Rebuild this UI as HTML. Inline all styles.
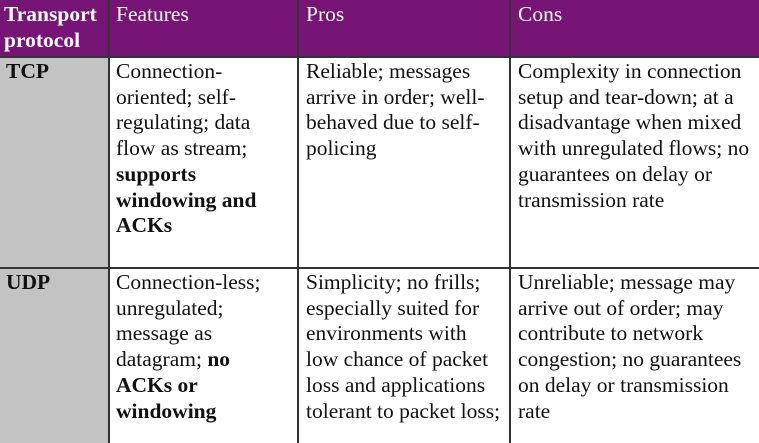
<!DOCTYPE html>
<html><head><style>
body{margin:0;width:759px;height:443px;overflow:hidden;background:#fff;font-family:"Liberation Serif","Noto Serif CJK SC",serif;font-size:21.5px;line-height:25.7px;color:#111}
.c{position:absolute;box-sizing:border-box;padding:2px 0 0 7px;white-space:nowrap}
.h{background:#761575;color:#fff;height:57px}
.g{background:#c3c3c3}
.v{position:absolute;top:0;width:2px;height:443px;background:#333}
.r{position:absolute;left:0;width:759px;height:2px;background:#333}
b{font-weight:bold}
</style></head><body>
<div class="c h" style="left:0;top:0;width:759px"></div>
<div class="c g" style="left:0;top:57px;width:109px;height:386px"></div>
<div class="c" style="left:0;top:0;color:#fff;font-weight:bold;padding-left:4px">Transport<br>protocol</div>
<div class="c" style="left:110px;top:0;color:#fff;padding-left:6px">Features</div>
<div class="c" style="left:299px;top:0;color:#fff;padding-left:7px">Pros</div>
<div class="c" style="left:511px;top:0;color:#fff;padding-left:7px">Cons</div>
<div class="v" style="left:108px"></div>
<div class="v" style="left:297px"></div>
<div class="v" style="left:509px"></div>
<div class="r" style="top:56px"></div>
<div class="r" style="top:267px"></div>
<div class="c" style="left:0;top:57px;font-weight:bold;padding-left:6px">TCP</div>
<div class="c" style="left:110px;top:57px;padding-left:6px">Connection-<br>oriented; self-<br>regulating; data<br>flow as stream;<br><b>supports<br>windowing and<br>ACKs</b></div>
<div class="c" style="left:299px;top:57px;padding-left:7px">Reliable; messages<br>arrive in order; well-<br>behaved due to self-<br>policing</div>
<div class="c" style="left:511px;top:57px;padding-left:7px">Complexity in connection<br>setup and tear-down; at a<br>disadvantage when mixed<br>with unregulated flows; no<br>guarantees on delay or<br>transmission rate</div>
<div class="c" style="left:0;top:268px;font-weight:bold;padding-left:6px">UDP</div>
<div class="c" style="left:110px;top:268px;padding-left:6px">Connection-less;<br>unregulated;<br>message as<br>datagram; <b>no<br>ACKs or<br>windowing</b></div>
<div class="c" style="left:299px;top:268px;padding-left:7px">Simplicity; no frills;<br>especially suited for<br>environments with<br>low chance of packet<br>loss and applications<br>tolerant to packet loss;</div>
<div class="c" style="left:511px;top:268px;padding-left:7px">Unreliable; message may<br>arrive out of order; may<br>contribute to network<br>congestion; no guarantees<br>on delay or transmission<br>rate</div>
</body></html>
